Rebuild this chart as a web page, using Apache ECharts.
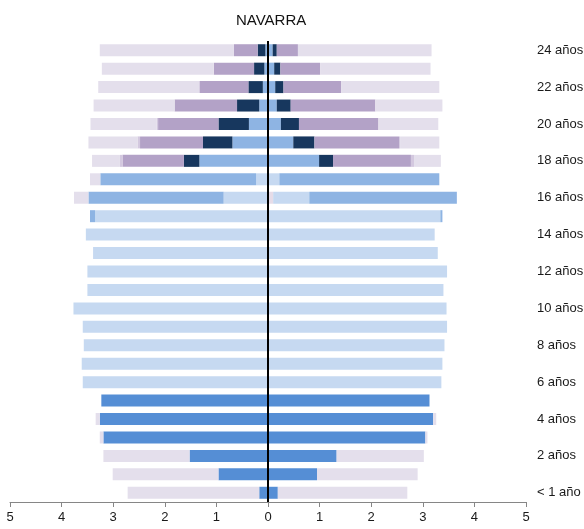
<!DOCTYPE html>
<html>
<head>
<meta charset="utf-8">
<script src="https://cdn.jsdelivr.net/npm/echarts@6/dist/echarts.min.js"></script>
<style>
  html, body { margin: 0; padding: 0; background: #fff; }
  #chart { width: 584px; height: 529px; }
</style>
</head>
<body>
<div id="chart"></div>
<script>
// edades 0..24
const ages = ['< 1 año', '1 año', '2 años', '3 años', '4 años', '5 años', '6 años', '7 años', '8 años', '9 años',
  '10 años', '11 años', '12 años', '13 años', '14 años', '15 años', '16 años', '17 años', '18 años', '19 años',
  '20 años', '21 años', '22 años', '23 años', '24 años']
const xTicks = [5, 4, 3, 2, 1, 0, 1, 2, 3, 4, 5]

// capas del centro hacia fuera (izquierda / derecha)
const rosaIzq = [0, 0, 0, 0, 0, 0, 0, 0, 0, 0, 0, 0, 0, 0, 0, 0, 0, 0, 0, 0, 0, 0, 0, 0, 0]
const rosaDer = [0, 0, 0, 0, 0, 0, 0, 0, 0, 0, 0, 0, 0, 0, 0, 0, 0.1, 0, 0, 0, 0, 0, 0, 0, 0]
const infantilIzq = [0.17, 0.96, 1.52, 3.19, 3.26, 3.23, 0, 0, 0, 0, 0, 0, 0, 0, 0, 0, 0, 0, 0, 0, 0, 0, 0, 0, 0]
const infantilDer = [0.19, 0.95, 1.33, 3.05, 3.20, 3.13, 0, 0, 0, 0, 0, 0, 0, 0, 0, 0, 0, 0, 0, 0, 0, 0, 0, 0, 0]
const claroIzq = [0, 0, 0, 0, 0, 0, 3.59, 3.61, 3.57, 3.59, 3.77, 3.50, 3.50, 3.39, 3.53, 3.35, 0.86, 0.23, 0, 0, 0, 0, 0, 0, 0]
const claroDer = [0, 0, 0, 0, 0, 0, 3.36, 3.38, 3.42, 3.47, 3.46, 3.40, 3.47, 3.29, 3.23, 3.34, 0.70, 0.22, 0, 0, 0, 0, 0, 0, 0]
const medioIzq = [0, 0, 0, 0, 0, 0, 0, 0, 0, 0, 0, 0, 0, 0, 0, 0.10, 2.62, 3.02, 1.33, 0.69, 0.37, 0.17, 0.10, 0.07, 0.05]
const medioDer = [0, 0, 0, 0, 0, 0, 0, 0, 0, 0, 0, 0, 0, 0, 0, 0.04, 2.86, 3.10, 0.99, 0.49, 0.25, 0.17, 0.14, 0.12, 0.09]
const oscuroIzq = [0, 0, 0, 0, 0, 0, 0, 0, 0, 0, 0, 0, 0, 0, 0, 0, 0, 0, 0.30, 0.57, 0.59, 0.43, 0.28, 0.20, 0.15]
const oscuroDer = [0, 0, 0, 0, 0, 0, 0, 0, 0, 0, 0, 0, 0, 0, 0, 0, 0, 0, 0.27, 0.41, 0.35, 0.27, 0.16, 0.12, 0.08]
const moradoIzq = [0, 0, 0, 0, 0, 0, 0, 0, 0, 0, 0, 0, 0, 0, 0, 0, 0, 0, 1.19, 1.22, 1.17, 1.21, 0.95, 0.78, 0.46]
const moradoDer = [0, 0, 0, 0, 0, 0, 0, 0, 0, 0, 0, 0, 0, 0, 0, 0, 0, 0, 1.51, 1.64, 1.54, 1.64, 1.12, 0.77, 0.41]
const otrosIzq = [0, 0, 0, 0, 0, 0, 0, 0, 0, 0, 0, 0, 0, 0, 0, 0, 0, 0, 0.05, 0.05, 0.03, 0, 0, 0, 0]
const otrosDer = [0, 0, 0, 0, 0, 0, 0, 0, 0, 0, 0, 0, 0, 0, 0, 0, 0, 0, 0.06, 0.02, 0, 0, 0, 0, 0]
const noEscIzq = [2.55, 2.05, 1.67, 0.07, 0.08, 0, 0, 0, 0, 0, 0, 0, 0, 0, 0, 0, 0.28, 0.20, 0.54, 0.95, 1.28, 1.57, 1.96, 2.17, 2.60]
const noEscDer = [2.51, 1.95, 1.69, 0.04, 0.06, 0, 0, 0, 0, 0, 0, 0, 0, 0, 0, 0, 0, 0, 0.52, 0.76, 1.16, 1.30, 1.90, 2.14, 2.59]

const layers = [
  { name: 'rosa', color: '#e6dce8', left: rosaIzq, right: rosaDer },
  { name: 'infantil', color: '#558ed5', left: infantilIzq, right: infantilDer },
  { name: 'claro', color: '#c6d9f1', left: claroIzq, right: claroDer },
  { name: 'medio', color: '#8eb4e3', left: medioIzq, right: medioDer },
  { name: 'oscuro', color: '#17375e', left: oscuroIzq, right: oscuroDer },
  { name: 'morado', color: '#b3a2c7', left: moradoIzq, right: moradoDer },
  { name: 'otros', color: '#d3c8df', left: otrosIzq, right: otrosDer },
  { name: 'noesc', color: '#e4dfec', left: noEscIzq, right: noEscDer }
]

const series = []
layers.forEach(l => {
  series.push({
    name: l.name + 'I',
    type: 'bar',
    stack: 'p',
    barWidth: 12,
    itemStyle: { color: l.color },
    data: l.left.map(v => -v)
  })
  series.push({
    name: l.name + 'D',
    type: 'bar',
    stack: 'p',
    barWidth: 12,
    itemStyle: { color: l.color },
    data: l.right.slice()
  })
})
series[series.length - 1].markLine = {
  silent: true,
  symbol: 'none',
  label: { show: false },
  lineStyle: { color: '#000', width: 2, type: 'solid' },
  data: [{ xAxis: 0 }]
}

const chart = echarts.init(document.getElementById('chart'))
chart.setOption({
  animation: false,
  textStyle: { fontFamily: 'Liberation Sans, Arial, sans-serif' },
  title: {
    text: 'NAVARRA',
    left: 231,
    top: 8,
    textStyle: { fontSize: 15, fontWeight: 'normal', color: '#111' }
  },
  grid: { left: 10, right: 58, top: 41, bottom: 27, containLabel: false, outerBoundsMode: 'none' },
  xAxis: {
    type: 'value',
    min: -5,
    max: 5,
    interval: 1,
    splitLine: { show: false },
    axisLine: { show: true, lineStyle: { color: '#868686' } },
    axisTick: { show: true, length: 5, lineStyle: { color: '#868686' } },
    axisLabel: {
      color: '#1a1a1a',
      fontSize: 13,
      margin: 9,
      formatter: v => String(xTicks[Math.round(v) + 5])
    }
  },
  yAxis: {
    type: 'category',
    data: ages,
    position: 'right',
    axisLine: { show: false },
    axisTick: { show: false },
    axisLabel: { interval: 1, margin: 11, color: '#1a1a1a', fontSize: 13 }
  },
  series: series
})
</script>
</body>
</html>
